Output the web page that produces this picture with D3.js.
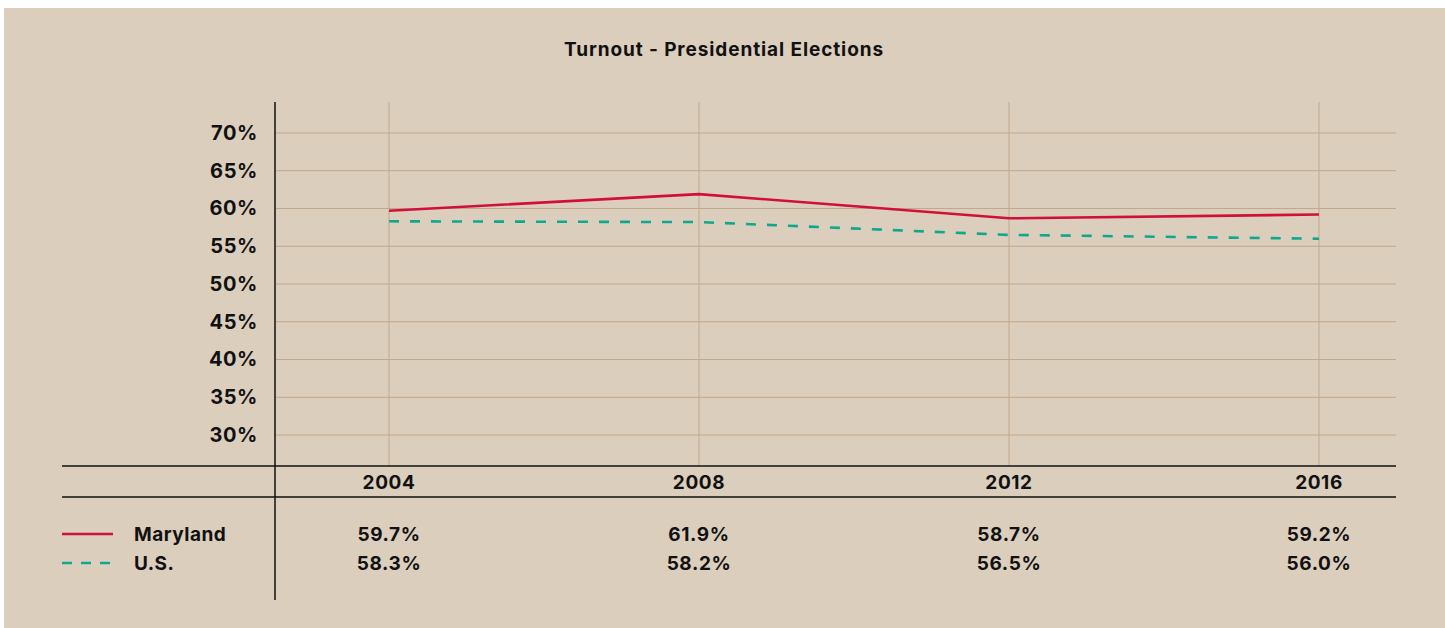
<!DOCTYPE html>
<html>
<head>
<meta charset="utf-8">
<script src="https://cdn.jsdelivr.net/npm/d3@7"></script>
<style>
  html, body { margin: 0; padding: 0; background: #ffffff; }
  svg { display: block; }
  text { font-family: "Inter", "Noto Sans", sans-serif; fill: #111111; }
</style>
</head>
<body>
<svg id="chart" width="1445" height="628"></svg>
<script>
// Turnout in presidential elections, Maryland vs. U.S.
const years = [2004, 2008, 2012, 2016];
const maryland = [59.7, 61.9, 58.7, 59.2];
const us = [58.3, 58.2, 56.5, 56.0];
const yTicks = [30, 35, 40, 45, 50, 55, 60, 65, 70];
const seriesNames = ["Maryland", "U.S."];
const title = "Turnout - Presidential Elections";

const bg = "#dccebd";
const gridColor = "#c2a78a";
const red = "#d0103a";
const green = "#10a88a";
const font = "Inter, 'Noto Sans', sans-serif";

const svg = d3.select("#chart");

svg.append("rect")
  .attr("x", 4).attr("y", 8)
  .attr("width", 1441).attr("height", 620)
  .attr("fill", bg);

const x = d3.scaleLinear().domain([2004, 2016]).range([389, 1319]);
const y = d3.scaleLinear().domain([25.9, 74.1]).range([466, 102]);

const left = 275, right = 1396, plotTop = 102, plotBottom = 466;

// title
svg.append("text")
  .attr("x", 724).attr("y", 56)
  .attr("text-anchor", "middle")
  .attr("font-size", 19).attr("font-weight", 700)
  .attr("letter-spacing", 0.9)
  .text(title);

// horizontal gridlines
svg.append("g").selectAll("line").data(yTicks).join("line")
  .attr("x1", left).attr("x2", right)
  .attr("y1", d => y(d)).attr("y2", d => y(d))
  .attr("stroke", gridColor).attr("stroke-width", 1);

// vertical gridlines at each year
svg.append("g").selectAll("line").data(years).join("line")
  .attr("x1", d => x(d)).attr("x2", d => x(d))
  .attr("y1", plotTop).attr("y2", plotBottom)
  .attr("stroke", gridColor).attr("stroke-width", 1);

// y axis labels
const yAxis = d3.axisLeft(y).tickValues(yTicks).tickSize(0).tickPadding(17)
  .tickFormat(d => d + "%");
const yg = svg.append("g").attr("transform", `translate(${left},0)`).call(yAxis);
yg.select(".domain").remove();
yg.selectAll("text")
  .attr("font-size", 20).attr("font-weight", 700)
  .attr("letter-spacing", 0.6)
  .attr("font-family", font)
  .attr("fill", "#111");

// lines
const line = d3.line().x((d, i) => x(years[i])).y(d => y(d));

svg.append("path").datum(us)
  .attr("d", line)
  .attr("fill", "none").attr("stroke", green)
  .attr("stroke-width", 2.6).attr("stroke-dasharray", "10,11");

svg.append("path").datum(maryland)
  .attr("d", line)
  .attr("fill", "none").attr("stroke", red)
  .attr("stroke-width", 2.6);

// table rules
svg.append("line").attr("x1", 62).attr("x2", right)
  .attr("y1", plotBottom).attr("y2", plotBottom)
  .attr("stroke", "#111").attr("stroke-width", 1.5);
svg.append("line").attr("x1", 62).attr("x2", right)
  .attr("y1", 497).attr("y2", 497)
  .attr("stroke", "#111").attr("stroke-width", 1.5);
svg.append("line").attr("x1", left).attr("x2", left)
  .attr("y1", plotTop).attr("y2", 600)
  .attr("stroke", "#111").attr("stroke-width", 1.5);

// year header
svg.append("g").selectAll("text").data(years).join("text")
  .attr("x", d => x(d)).attr("y", 489)
  .attr("text-anchor", "middle")
  .attr("font-size", 19).attr("font-weight", 700)
  .attr("letter-spacing", 0.6)
  .text(d => d);

// legend rows
const rows = [
  { name: seriesNames[0], values: maryland, color: red, dash: null, y: 534 },
  { name: seriesNames[1], values: us, color: green, dash: "10,9", y: 563 }
];

rows.forEach(r => {
  svg.append("line")
    .attr("x1", 62).attr("x2", 113)
    .attr("y1", r.y).attr("y2", r.y)
    .attr("stroke", r.color).attr("stroke-width", 2.6)
    .attr("stroke-dasharray", r.dash);
  svg.append("text")
    .attr("x", 134).attr("y", r.y + 7)
    .attr("font-size", 19).attr("font-weight", 700)
    .attr("letter-spacing", 0.5)
    .text(r.name);
  svg.append("g").selectAll("text").data(r.values).join("text")
    .attr("x", (d, i) => x(years[i])).attr("y", r.y + 7)
    .attr("text-anchor", "middle")
    .attr("font-size", 19).attr("font-weight", 700)
    .attr("letter-spacing", 0.6)
    .text(d => d.toFixed(1) + "%");
});
</script>
</body>
</html>
